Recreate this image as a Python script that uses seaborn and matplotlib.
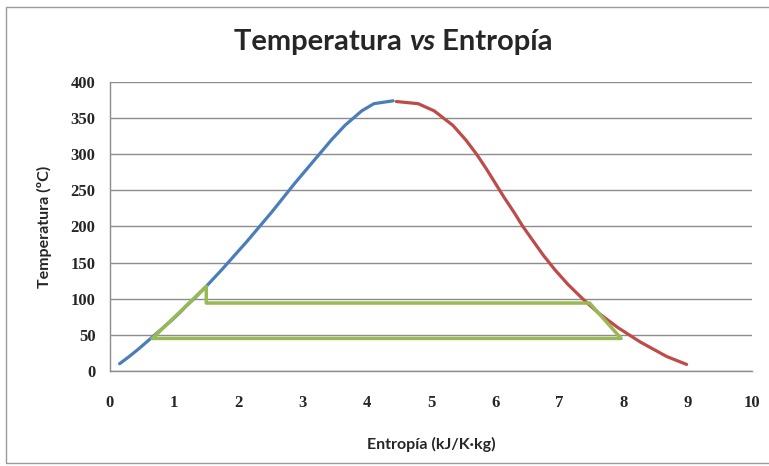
"""
Diagrama T-s del agua con un ciclo (Temperatura vs Entropía).
"""
import matplotlib
matplotlib.use("Agg")
import matplotlib.pyplot as plt
import pandas as pd
import seaborn as sns
from matplotlib.patches import Rectangle

# saturated liquid line (blue)
liq_s = [0.15, 0.30, 0.44, 0.57, 0.70, 0.83, 0.96, 1.08, 1.19, 1.31, 1.53, 1.74,
         1.94, 2.14, 2.33, 2.52, 2.70, 2.88, 3.07, 3.26, 3.45, 3.66, 3.92, 4.11, 4.41]
liq_T = [10, 20, 30, 40, 50, 60, 70, 80, 90, 100, 120, 140,
         160, 180, 200, 220, 240, 260, 280, 300, 320, 340, 360, 370, 374]

# saturated vapour line (red)
vap_s = [4.46, 4.80, 5.05, 5.34, 5.54, 5.71, 5.86, 6.00, 6.14, 6.29, 6.43, 6.59,
         6.75, 6.93, 7.13, 7.36, 7.61, 7.91, 8.26, 8.67, 8.98]
vap_T = [373, 370, 360, 340, 320, 300, 280, 260, 240, 220, 200, 180,
         160, 140, 120, 100, 80, 60, 40, 20, 9]

# cycle (green)
cyc_s = [0.66, 1.50, 1.50, 7.47, 7.96, 0.66]
cyc_T = [45, 117, 94, 94, 45, 45]

x_ticks = list(range(0, 11))
y_ticks = list(range(0, 401, 50))

BLUE = "#4A7EBB"
RED = "#BE4B48"
GREEN = "#98B954"
GRID = "#8C8C8C"

sns.set_theme(style="white")
plt.rcParams["font.family"] = ["Lato", "DejaVu Sans"]

fig = plt.figure(figsize=(7.69, 4.66), dpi=100)
ax = fig.add_axes([0.143, 0.204, 0.835, 0.620])

# chart border
fig.patches.append(Rectangle((0.008, 0.006), 1.0, 0.98, transform=fig.transFigure,
                             fill=False, edgecolor="#9A9A9A", linewidth=1.0))

liq = pd.DataFrame({"s": liq_s, "T": liq_T})
vap = pd.DataFrame({"s": vap_s, "T": vap_T})
cyc = pd.DataFrame({"s": cyc_s, "T": cyc_T})

sns.lineplot(data=liq, x="s", y="T", sort=False, estimator=None, color=BLUE, linewidth=2.3, ax=ax)
sns.lineplot(data=vap, x="s", y="T", sort=False, estimator=None, color=RED, linewidth=2.3, ax=ax)
sns.lineplot(data=cyc, x="s", y="T", sort=False, estimator=None, color=GREEN, linewidth=2.5, ax=ax)

ax.set_xlim(0, 10)
ax.set_ylim(0, 400)
ax.set_xticks(x_ticks)
ax.set_yticks(y_ticks)
ax.set_xticklabels([str(v) for v in x_ticks], family="Liberation Serif", fontweight="bold", fontsize=12)
ax.set_yticklabels([str(v) for v in y_ticks], family="Liberation Serif", fontweight="bold", fontsize=12)
ax.tick_params(axis="y", length=0, pad=10.5)
ax.tick_params(axis="x", length=0, pad=17)

ax.yaxis.grid(True, color=GRID, linewidth=1.0)
ax.xaxis.grid(False)
ax.set_axisbelow(True)
for side in ["top", "right"]:
    ax.spines[side].set_visible(False)
for side in ["left", "bottom"]:
    ax.spines[side].set_color(GRID)
    ax.spines[side].set_linewidth(1.0)

ax.set_xlabel("Entropía (kJ/K·kg)", fontsize=11.5, fontweight="bold", labelpad=19)
ax.set_ylabel("Temperatura (ºC)", fontsize=11.5, fontweight="bold", labelpad=13)

# title with italic "vs"
parts = [("Temperatura ", "normal"), ("vs", "italic"), (" Entropía", "normal")]
texts = []
for txt, style in parts:
    texts.append(fig.text(0, 0.892, txt, fontsize=21, fontweight="bold", style=style,
                          ha="left", va="baseline"))
fig.canvas.draw()
r = fig.canvas.get_renderer()
widths = [t.get_window_extent(r).width for t in texts]
x0 = 393 - sum(widths) / 2
for t, w in zip(texts, widths):
    t.set_x(x0 / fig.bbox.width)
    x0 += w

fig.savefig("out.png", dpi=100)
